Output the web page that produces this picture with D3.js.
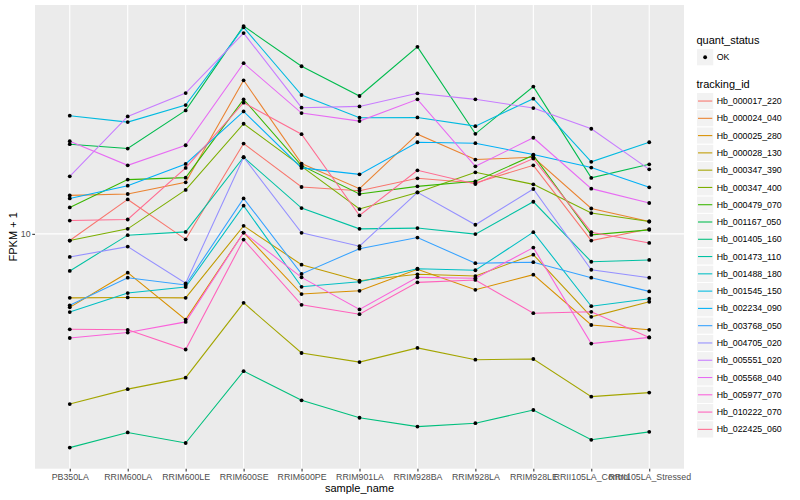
<!DOCTYPE html>
<html lang="en">
<head>
<meta charset="UTF-8">
<title>FPKM + 1 by sample</title>
<script src="https://cdnjs.cloudflare.com/ajax/libs/d3/7.8.5/d3.min.js"></script>
<style>
    body {
        margin: 0;
        background: white;
    }
    svg {
        display: block;
        font-family: "Liberation Sans", Arial, Helvetica, sans-serif;
    }
    .tick text {
        fill: #4d4d4d;
        font-size: 8.8px;
    }
    .tick line {
        stroke: #333333;
    }
</style>
</head>
<body>
<div id="chart"></div>
<script>
    // x categories
    const samples = ["PB350LA", "RRIM600LA", "RRIM600LE", "RRIM600SE", "RRIM600PE", "RRIM901LA",
        "RRIM928BA", "RRIM928LA", "RRIM928LE", "RRII105LA_Control", "RRII105LA_Stressed"];

    const trackingIds = ["Hb_000017_220", "Hb_000024_040", "Hb_000025_280", "Hb_000028_130",
        "Hb_000347_390", "Hb_000347_400", "Hb_000479_070", "Hb_001167_050", "Hb_001405_160",
        "Hb_001473_110", "Hb_001488_180", "Hb_001545_150", "Hb_002234_090", "Hb_003768_050",
        "Hb_004705_020", "Hb_005551_020", "Hb_005568_040", "Hb_005977_070", "Hb_010222_070",
        "Hb_022425_060"];

    const quantStatus = ["OK"];
    const yTicks = [10];

    // FPKM + 1, one value per sample
    const hb_000017_220 = [9.50, 13.01, 9.59, 19.95, 14.31, 13.91, 15.29, 14.76, 16.89, 9.50, 10.37];
    const hb_000024_040 = [13.42, 13.56, 14.83, 32.36, 17.11, 14.13, 21.43, 17.65, 17.96, 12.14, 10.99];
    const hb_000025_280 = [5.70, 7.43, 5.19, 10.10, 6.31, 6.47, 7.63, 6.52, 7.32, 4.98, 4.80];
    const hb_000028_130 = [6.13, 6.15, 6.13, 10.63, 7.90, 6.99, 7.34, 7.24, 8.53, 5.30, 5.95];
    const hb_000347_390 = [2.72, 3.05, 3.33, 5.90, 4.02, 3.75, 4.18, 3.82, 3.84, 2.88, 2.97];
    const hb_000347_400 = [9.50, 10.39, 13.99, 23.21, 16.76, 12.09, 13.73, 16.01, 14.60, 11.72, 10.99];
    const hb_000479_070 = [12.24, 15.14, 15.37, 27.97, 16.85, 13.56, 14.38, 14.94, 18.24, 9.92, 10.31];
    const hb_001167_050 = [19.85, 19.20, 25.70, 48.98, 36.03, 28.69, 41.78, 21.49, 30.83, 15.34, 17.02];
    const hb_001405_160 = [1.95, 2.19, 2.02, 3.50, 2.80, 2.45, 2.29, 2.35, 2.60, 2.07, 2.20];
    const hb_001473_110 = [7.53, 9.90, 10.15, 17.96, 12.18, 10.39, 10.45, 9.98, 12.78, 8.08, 8.19];
    const hb_001488_180 = [5.50, 6.36, 6.66, 12.40, 6.67, 6.93, 7.66, 7.57, 10.13, 5.75, 6.09];
    const hb_001545_150 = [24.68, 23.50, 26.77, 48.50, 28.91, 24.30, 24.36, 22.79, 28.12, 17.34, 20.15];
    const hb_002234_090 = [13.11, 14.45, 17.07, 25.51, 16.56, 15.76, 20.15, 20.00, 18.34, 16.60, 14.27];
    const hb_003768_050 = [5.79, 7.15, 6.76, 13.11, 7.36, 8.93, 9.72, 7.99, 8.05, 7.15, 6.44];
    const hb_004705_020 = [8.38, 9.07, 6.85, 17.96, 10.08, 9.10, 13.73, 10.72, 14.09, 7.60, 7.15];
    const hb_005551_020 = [15.52, 24.55, 29.35, 46.42, 26.24, 26.50, 29.29, 27.97, 26.16, 22.34, 16.38];
    const hb_005568_040 = [20.31, 16.89, 19.69, 36.87, 25.18, 23.68, 27.97, 16.76, 20.85, 14.13, 12.66];
    const hb_005977_070 = [4.51, 4.70, 5.10, 10.10, 7.17, 5.61, 7.17, 7.12, 9.00, 4.32, 4.53];
    const hb_010222_070 = [4.82, 4.80, 4.13, 9.57, 5.81, 5.41, 6.90, 7.03, 5.45, 5.51, 4.53];
    const hb_022425_060 = [11.07, 11.16, 16.56, 27.27, 21.43, 11.51, 16.26, 14.64, 17.78, 10.13, 9.33];

    const seriesValues = [hb_000017_220, hb_000024_040, hb_000025_280, hb_000028_130, hb_000347_390,
        hb_000347_400, hb_000479_070, hb_001167_050, hb_001405_160, hb_001473_110, hb_001488_180,
        hb_001545_150, hb_002234_090, hb_003768_050, hb_004705_020, hb_005551_020, hb_005568_040,
        hb_005977_070, hb_010222_070, hb_022425_060];

    // ggplot default hue palette for 20 levels
    const palette = ["#F8766D", "#EA8331", "#D89000", "#C09B00", "#A3A500", "#7CAE00", "#39B600",
        "#00BB4E", "#00BF7D", "#00C1A3", "#00BFC4", "#00BAE0", "#00B0F6", "#35A2FF", "#9590FF",
        "#C77CFF", "#E76BF3", "#FA62DB", "#FF62BC", "#FF6C91"];

    const series = trackingIds.map((id, i) => ({
        id: id,
        color: palette[i],
        points: seriesValues[i].map((v, j) => ({ sample: samples[j], value: v }))
    }));

    const width = 800, height = 500;
    const panel = { left: 35, right: 684, top: 5, bottom: 468.7 };
    const lineW = 1.07;

    const svg = d3.select("#chart")
        .append("svg")
        .attr("width", width)
        .attr("height", height);

    const x = d3.scalePoint()
        .domain(samples)
        .range([panel.left, panel.right])
        .padding(0.6);

    // log scale with 5% expansion on each side, like ggplot
    const ext = d3.extent(seriesValues.flat()).map(Math.log10);
    const pad = (ext[1] - ext[0]) * 0.05;
    const y = d3.scaleLog()
        .domain([Math.pow(10, ext[0] - pad), Math.pow(10, ext[1] + pad)])
        .range([panel.bottom, panel.top]);

    // panel background and grid
    svg.append("rect")
        .attr("x", panel.left)
        .attr("y", panel.top)
        .attr("width", panel.right - panel.left)
        .attr("height", panel.bottom - panel.top)
        .attr("fill", "#EBEBEB");

    const grid = svg.append("g").attr("stroke", "white").attr("stroke-width", lineW);
    grid.selectAll(".vgrid")
        .data(samples)
        .join("line")
        .attr("x1", d => x(d)).attr("x2", d => x(d))
        .attr("y1", panel.top).attr("y2", panel.bottom);
    grid.selectAll(".hgrid")
        .data(yTicks)
        .join("line")
        .attr("x1", panel.left).attr("x2", panel.right)
        .attr("y1", d => y(d)).attr("y2", d => y(d));

    // lines
    const line = d3.line()
        .x(d => x(d.sample))
        .y(d => y(d.value));

    svg.append("g")
        .selectAll("path")
        .data(series)
        .join("path")
        .attr("d", d => line(d.points))
        .attr("fill", "none")
        .attr("stroke", d => d.color)
        .attr("stroke-width", lineW);

    // points
    svg.append("g")
        .selectAll("circle")
        .data(series.flatMap(s => s.points))
        .join("circle")
        .attr("cx", d => x(d.sample))
        .attr("cy", d => y(d.value))
        .attr("r", 1.9)
        .attr("fill", "black");

    // axes
    const yAxis = svg.append("g")
        .attr("transform", `translate(${panel.left},0)`)
        .call(d3.axisLeft(y).tickValues(yTicks).tickFormat(d3.format("d")).tickSize(2.75).tickPadding(1.6));
    yAxis.select(".domain").remove();

    const xAxis = svg.append("g")
        .attr("transform", `translate(0,${panel.bottom})`)
        .call(d3.axisBottom(x).tickSize(2.75).tickPadding(2.4));
    xAxis.select(".domain").remove();
    svg.selectAll(".tick line").attr("stroke-width", lineW);

    // axis titles
    svg.append("text")
        .attr("x", (panel.left + panel.right) / 2)
        .attr("y", 492)
        .attr("text-anchor", "middle")
        .attr("font-size", "11px")
        .text("sample_name");

    svg.append("text")
        .attr("transform", `translate(17,${(panel.top + panel.bottom) / 2}) rotate(-90)`)
        .attr("text-anchor", "middle")
        .attr("font-size", "11px")
        .text("FPKM + 1");

    // legends
    const keyX = 696.5, keySize = 17.28, labelX = 716.7;

    const legend = svg.append("g");
    legend.append("text")
        .attr("x", keyX)
        .attr("y", 44)
        .attr("font-size", "11px")
        .text("quant_status");

    const qKeys = legend.append("g")
        .selectAll("g")
        .data(quantStatus)
        .join("g")
        .attr("transform", (d, i) => `translate(${keyX},${48.6 + i * keySize})`);
    qKeys.append("rect")
        .attr("width", keySize).attr("height", keySize)
        .attr("fill", "#F2F2F2").attr("stroke", "white");
    qKeys.append("circle")
        .attr("cx", keySize / 2).attr("cy", keySize / 2)
        .attr("r", 1.9).attr("fill", "black");
    qKeys.append("text")
        .attr("x", labelX - keyX)
        .attr("y", keySize / 2)
        .attr("dy", "0.35em")
        .attr("font-size", "8.8px")
        .text(d => d);

    legend.append("text")
        .attr("x", keyX)
        .attr("y", 88)
        .attr("font-size", "11px")
        .text("tracking_id");

    const tKeys = legend.append("g")
        .selectAll("g")
        .data(series)
        .join("g")
        .attr("transform", (d, i) => `translate(${keyX},${92.4 + i * keySize})`);
    tKeys.append("rect")
        .attr("width", keySize).attr("height", keySize)
        .attr("fill", "#F2F2F2").attr("stroke", "white");
    tKeys.append("line")
        .attr("x1", 1.5).attr("x2", keySize - 1.5)
        .attr("y1", keySize / 2).attr("y2", keySize / 2)
        .attr("stroke", d => d.color)
        .attr("stroke-width", lineW);
    tKeys.append("text")
        .attr("x", labelX - keyX)
        .attr("y", keySize / 2)
        .attr("dy", "0.35em")
        .attr("font-size", "8.8px")
        .text(d => d.id);
</script>
</body>
</html>
